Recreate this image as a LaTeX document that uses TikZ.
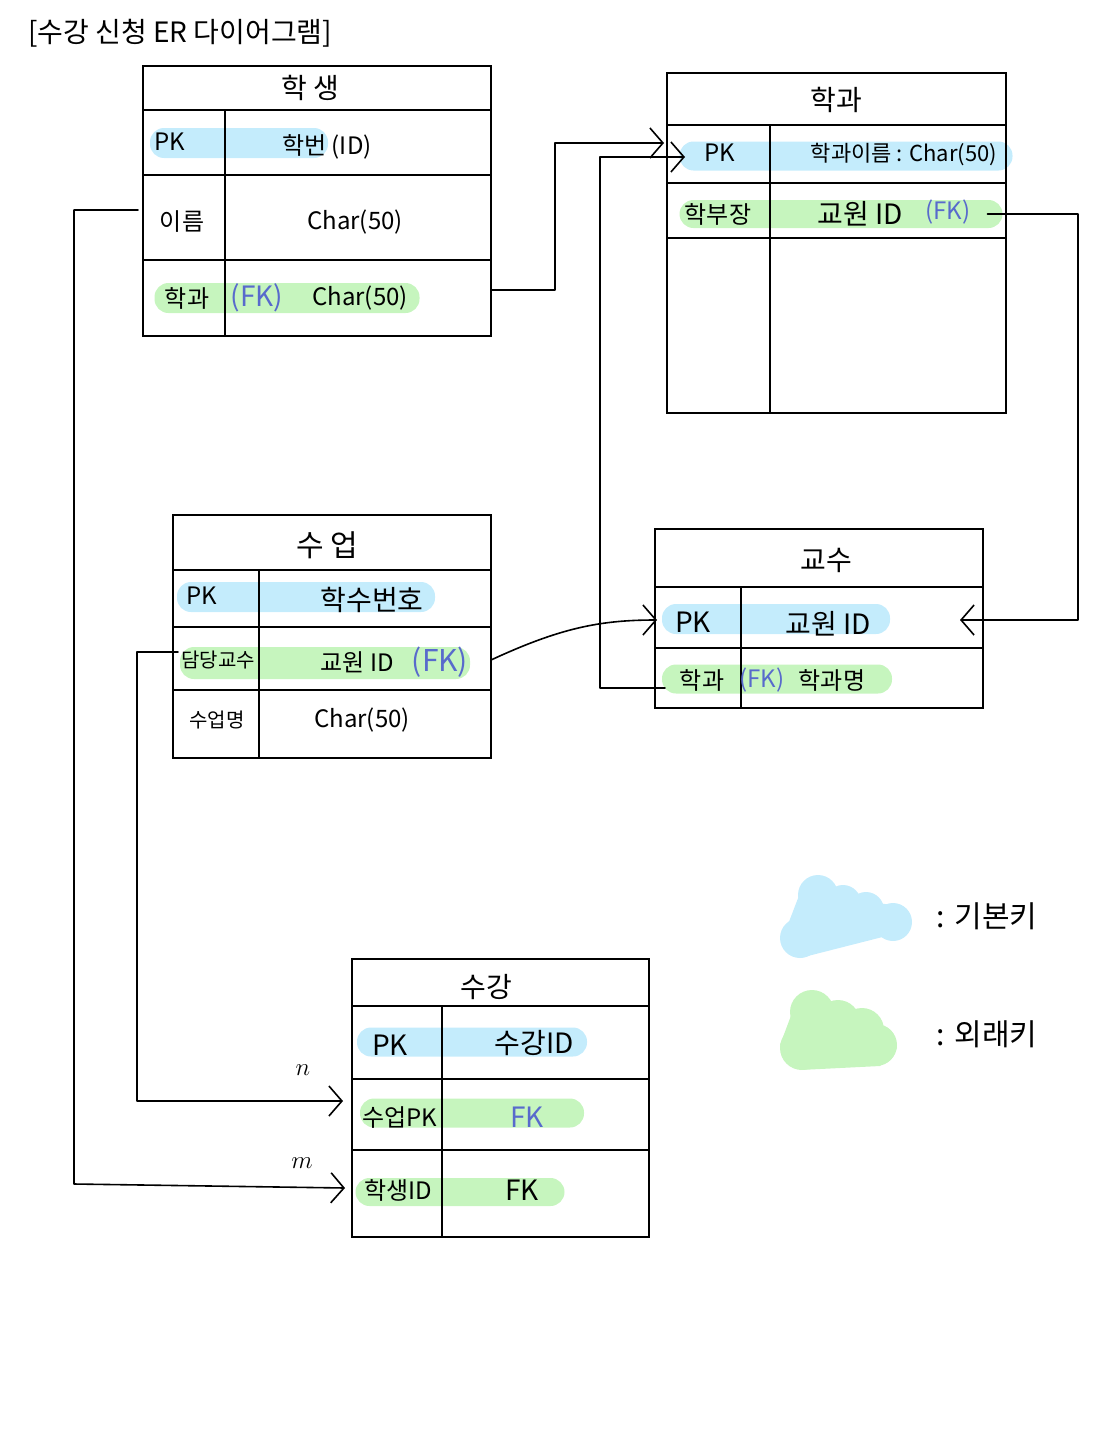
\documentclass[tikz,border=0pt]{standalone}
\usepackage{fontspec}
\setmainfont{Noto Sans CJK KR}
\usepackage{tikz}
\usetikzlibrary{arrows.meta}
\definecolor{pkblue}{RGB}{196,236,252}
\definecolor{fkgreen}{RGB}{198,245,190}
\definecolor{fkink}{RGB}{88,106,204}
\tikzstyle{every node}=[font=\fontsize{24}{28}\selectfont,inner sep=2pt]
\tikzstyle{tbl}=[draw,line width=1.8pt,inner sep=0pt,outer sep=0pt]
\tikzstyle{pkmark}=[fill=pkblue,rounded corners=14pt,inner sep=0pt,outer sep=0pt]
\tikzstyle{fkmark}=[fill=fkgreen,rounded corners=14pt,inner sep=0pt,outer sep=0pt]
\tikzstyle{rule}=[line width=1.8pt]
\tikzstyle{conn}=[line width=1.6pt,line join=round]
\tikzstyle{tip}=[-{Straight Barb[length=13pt,width=30pt,line width=1.6pt]}]
\tikzstyle{big}=[font=\fontsize{28}{32}\selectfont]

\begin{document}
\begin{tikzpicture}[line cap=round,x=1pt,y=-1pt]
            \useasboundingbox (0,0) rectangle (1115,1440);
            \node[anchor=west,big] (title) at (26,33) {[수강 신청 ER 다이어그램]};
            % highlights
            \node[pkmark,minimum width=178pt,minimum height=30pt] (stuPKm) at (239,143) {};
            \node[fkmark,minimum width=265pt,minimum height=30pt] (stuFKm) at (287,298) {};
            \node[pkmark,minimum width=333pt,minimum height=29pt] (deptPKm) at (846,156) {};
            \node[fkmark,minimum width=323pt,minimum height=28pt] (deptFKm) at (841,214) {};
            \node[pkmark,minimum width=258pt,minimum height=30pt] (lecPKm) at (306,597) {};
            \node[fkmark,minimum width=290pt,minimum height=32pt] (lecFKm) at (325,663) {};
            \node[pkmark,minimum width=228pt,minimum height=30pt] (profPKm) at (776,619) {};
            \node[fkmark,minimum width=230pt,minimum height=29pt] (profFKm) at (777,679) {};
            \node[pkmark,minimum width=230pt,minimum height=29pt] (enrPKm) at (472,1042) {};
            \node[fkmark,minimum width=224pt,minimum height=29pt] (enrLecm) at (472,1113) {};
            \node[fkmark,minimum width=209pt,minimum height=28pt] (enrStum) at (460,1192) {};
            % 학생
            \node[tbl,minimum width=348pt,minimum height=270pt] (student) at (317,201) {};
            \draw[rule] (143,110) -- (491,110) (143,175) -- (491,175) (143,260) -- (491,260) (225,110) -- (225,336);
            \node[big] (stuTitle) at (310,88) {학 생};
            \node (stuPK) at (170,142) {PK};
            \node (stuNo) at (327,147) {학번 (ID)};
            \node (stuName) at (182,222) {이름};
            \node (stuNameT) at (355,222) {Char(50)};
            \node (stuDept) at (187,298) {학과};
            \node[text=fkink,big] (stuDeptFK) at (257,298) {(FK)};
            \node (stuDeptT) at (360,298) {Char(50)};
            % 학과
            \node[tbl,minimum width=339pt,minimum height=340pt] (dept) at (836.5,243) {};
            \draw[rule] (667,125) -- (1006,125) (667,183) -- (1006,183) (667,238) -- (1006,238) (770,125) -- (770,413);
            \node[big] (deptTitle) at (836,100) {학과};
            \node (deptPK) at (720,153) {PK};
            \node[font=\fontsize{22}{26}\selectfont] (deptName) at (904,155) {학과이름 : Char(50)};
            \node (deptHead) at (718,214) {학부장};
            \node[big] (deptHeadT) at (860,214) {교원 ID};
            \node[text=fkink] (deptHeadFK) at (948,212) {(FK)};
            % 수업
            \node[tbl,minimum width=318pt,minimum height=243pt] (lecture) at (332,636.5) {};
            \draw[rule] (173,570) -- (491,570) (173,627) -- (491,627) (173,690) -- (491,690) (259,570) -- (259,758);
            \node[font=\fontsize{30}{34}\selectfont] (lecTitle) at (327,545) {수 업};
            \node (lecPK) at (202,596) {PK};
            \node[big] (lecNo) at (372,600) {학수번호};
            \node[font=\fontsize{20}{24}\selectfont] (lecProf) at (218,660) {담당교수};
            \node (lecProfT) at (357,662) {교원 ID};
            \node[text=fkink,font=\fontsize{30}{34}\selectfont] (lecProfFK) at (440,662) {(FK)};
            \node[font=\fontsize{20}{24}\selectfont] (lecName) at (217,720) {수업명};
            \node (lecNameT) at (362,720) {Char(50)};
            % 교수
            \node[tbl,minimum width=328pt,minimum height=179pt] (prof) at (819,618.5) {};
            \draw[rule] (655,587) -- (983,587) (655,648) -- (983,648) (741,587) -- (741,708);
            \node[big] (profTitle) at (826,560) {교수};
            \node[big] (profPK) at (693,622) {PK};
            \node[big] (profNo) at (828,624) {교원 ID};
            \node (profDept) at (702,680) {학과};
            \node[text=fkink] (profDeptFK) at (762,680) {(FK)};
            \node (profDeptT) at (832,680) {학과명};
            % 수강
            \node[tbl,minimum width=297pt,minimum height=278pt] (enroll) at (500.5,1098) {};
            \draw[rule] (352,1006) -- (649,1006) (352,1079) -- (649,1079) (352,1150) -- (649,1150) (442,1006) -- (442,1237);
            \node[big] (enrTitle) at (486,987) {수강};
            \node[big] (enrPK) at (390,1045) {PK};
            \node[big] (enrNo) at (534,1043) {수강ID};
            \node (enrLec) at (400,1117) {수업PK};
            \node[text=fkink,big] (enrLecFK) at (527,1117) {FK};
            \node (enrStu) at (398,1190) {학생ID};
            \node[big] (enrStuFK) at (522,1190) {FK};
            % connectors
            \draw[conn,tip] (student.east |- 0,290) -| (555,143) -- ([xshift=-3pt]dept.west |- 0,143);
            \draw[conn,tip] ([xshift=10pt]prof.west |- 0,688) -| (600,157) -- ([xshift=18pt]dept.west |- 0,157);
            \draw[conn,tip] ([xshift=-15pt]deptFKm.east) -| (1078,620) -- ([xshift=-23pt]prof.east |- 0,620);
            \draw[conn,tip] (lecture.east |- 0,660) .. controls (560,628) and (600,620) .. ([xshift=2pt]prof.west |- 0,620);
            \draw[conn,tip] ([xshift=5pt]lecture.west |- 0,652) -| (137,1101) -- ([xshift=-9pt]enroll.west |- 0,1101);
            \draw[conn,tip] ([xshift=-5pt]student.west |- 0,210) -| (74,1184) -- ([xshift=-7pt]enroll.west |- 0,1188);
            \node[big] (nMark) at (303,1070) {$n$};
            \node[big] (mMark) at (302,1163) {$m$};
            % legend
            \fill[pkblue] (800,938) circle (20) (818,895) circle (20) (843,903) circle (18) (866,910) circle (18) (893,922) circle (19);
            \fill[pkblue] (782,940) -- (800,893) -- (893,905) -- (910,930) -- (800,958) -- cycle;
            \fill[fkgreen] (802,1048) circle (22) (812,1012) circle (22) (838,1022) circle (22) (862,1030) circle (22) (876,1045) circle (21);
            \fill[fkgreen] (780,1045) -- (795,1005) -- (880,1022) -- (897,1048) -- (880,1066) -- (800,1070) -- cycle;
            \node[anchor=west,font=\fontsize{30}{34}\selectfont] (pkLegend) at (934,916) {:\hspace{10pt}기본키};
            \node[anchor=west,font=\fontsize{30}{34}\selectfont] (fkLegend) at (934,1034) {:\hspace{10pt}외래키};
\end{tikzpicture}
\end{document}
